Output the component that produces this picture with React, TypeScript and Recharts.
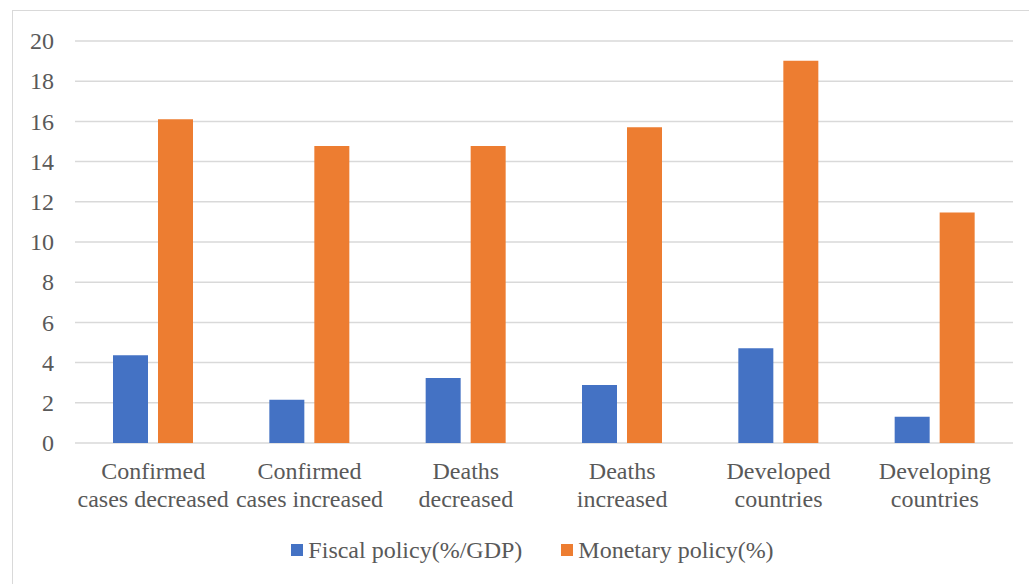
import { BarChart, Bar, XAxis, YAxis, CartesianGrid, Legend } from 'recharts';

const categories = [
  'Confirmed cases decreased',
  'Confirmed cases increased',
  'Deaths decreased',
  'Deaths increased',
  'Developed countries',
  'Developing countries',
];
const fiscalPolicy = [4.37, 2.15, 3.23, 2.88, 4.72, 1.31];
const monetaryPolicy = [16.11, 14.78, 14.78, 15.71, 19.02, 11.47];
const yTicks = [0, 2, 4, 6, 8, 10, 12, 14, 16, 18, 20];

const FONT = "'Liberation Serif', serif";
const TEXT = '#595959';
const GRID = '#d9d9d9';
const BLUE = '#4472C4';
const ORANGE = '#ED7D31';

const data = categories.map((name, i) => ({
  name,
  fiscal: fiscalPolicy[i],
  monetary: monetaryPolicy[i],
}));

// first word on top line, rest below (matches the Excel wrapping)
const CategoryTick = ({ x, y, payload }: any) => {
  const words = String(payload.value).split(' ');
  const first = words[0];
  const rest = words.slice(1).join(' ');
  return (
    <text x={x} y={y} textAnchor="middle" fill={TEXT} fontSize={24} fontFamily={FONT} style={{ fontFamily: FONT }}>
      <tspan x={x} y={y + 36}>{first}</tspan>
      <tspan x={x} y={y + 63.5}>{rest}</tspan>
    </text>
  );
};

const YTick = ({ x, y, payload }: any) => (
  <text x={x} y={y} dy="0.34em" textAnchor="end" fill={TEXT} fontSize={24} fontFamily={FONT} style={{ fontFamily: FONT }}>
    {payload.value}
  </text>
);

const LegendBox = () => {
  const items = [
    { label: 'Fiscal policy(%/GDP)', color: BLUE },
    { label: 'Monetary policy(%)', color: ORANGE },
  ];
  return (
    <div
      style={{
        height: 61,
        display: 'flex',
        justifyContent: 'center',
        alignItems: 'center',
        paddingLeft: 52,
        paddingBottom: 7,
        boxSizing: 'border-box',
        fontFamily: FONT,
        fontSize: 24,
        color: TEXT,
      }}
    >
      {items.map((it, i) => (
        <div key={it.label} style={{ display: 'flex', alignItems: 'center', marginLeft: i ? 39 : 0 }}>
          <span style={{ width: 12, height: 12, background: it.color, marginRight: 5, display: 'inline-block' }} />
          <span style={{ fontFamily: FONT }}>{it.label}</span>
        </div>
      ))}
    </div>
  );
};

export default function App() {
  return (
    <div
      style={{
        position: 'absolute',
        left: 0,
        top: 0,
        width: 1029,
        height: 584,
        overflow: 'hidden',
        background: '#fff',
        fontFamily: FONT,
      }}
    >
      <div
        style={{
          position: 'absolute',
          left: 12,
          top: 10,
          width: 1100,
          height: 700,
          border: `1px solid ${GRID}`,
        }}
      />
      <div style={{ position: 'absolute', left: 0, top: 0 }}>
        <BarChart
          width={1029}
          height={584}
          data={data}
          margin={{ top: 41, right: 16, bottom: 0, left: 0 }}
          barSize={35}
          barGap={10}
        >
          <CartesianGrid vertical={false} stroke={GRID} strokeWidth={1.5} />
          <XAxis
            dataKey="name"
            axisLine={false}
            tickLine={false}
            tickSize={0}
            tickMargin={0}
            height={80}
            interval={0}
            tick={<CategoryTick />}
          />
          <YAxis
            domain={[0, 20]}
            ticks={yTicks}
            width={75}
            axisLine={false}
            tickLine={false}
            tickSize={0}
            tickMargin={21}
            tick={<YTick />}
          />
          <Legend verticalAlign="bottom" content={<LegendBox />} />
          <Bar dataKey="fiscal" name="Fiscal policy(%/GDP)" fill={BLUE} isAnimationActive={false} />
          <Bar dataKey="monetary" name="Monetary policy(%)" fill={ORANGE} isAnimationActive={false} />
        </BarChart>
      </div>
    </div>
  );
}
